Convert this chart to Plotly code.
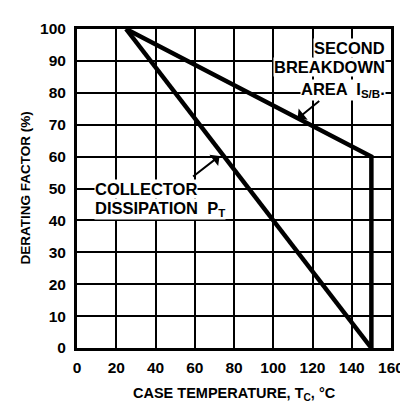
import plotly.graph_objects as go

# Data
pt_temp = [25, 150]
pt_factor = [100, 0]
sb_temp = [25, 150, 150]
sb_factor = [100, 60, 0]
x_ticks = [0, 20, 40, 60, 80, 100, 120, 140, 160]
y_ticks = [0, 10, 20, 30, 40, 50, 60, 70, 80, 90, 100]

FONT = "Liberation Sans"
fig = go.Figure()
fig.add_trace(go.Scatter(x=pt_temp, y=pt_factor, mode="lines",
                         line=dict(color="black", width=4.5), showlegend=False))
fig.add_trace(go.Scatter(x=sb_temp, y=sb_factor, mode="lines",
                         line=dict(color="black", width=4.5), showlegend=False))

axis_common = dict(showgrid=True, gridcolor="black", gridwidth=2, zeroline=False,
                   showline=True, linecolor="black", linewidth=3, mirror=True,
                   ticks="", tickfont=dict(family=FONT, size=15.5, color="black", weight="bold"))
fig.update_xaxes(range=[0, 160], tickvals=x_ticks, ticklabelstandoff=3, **axis_common)
fig.update_yaxes(range=[0, 100], tickvals=y_ticks, ticklabelstandoff=5, **axis_common)

tf = dict(family=FONT, size=16.5, color="black", weight="bold")
ann = []
for txt, yy in [("SECOND", 94.1), ("BREAKDOWN", 88.0), ("AREA  I<sub>S/B</sub>.", 80.9)]:
    ann.append(dict(x=157.5, y=yy, xref="x", yref="y", text=txt, showarrow=False,
                    xanchor="right", yanchor="middle", font=tf, bgcolor="white", borderpad=0))
for txt, yy in [("COLLECTOR", 49.9), ("DISSIPATION  P<sub>T</sub>", 43.6)]:
    ann.append(dict(x=8.8, y=yy, xref="x", yref="y", text=txt, showarrow=False,
                    xanchor="left", yanchor="middle", font=tf, bgcolor="white", borderpad=0))
ann.append(dict(x=112.4, y=71.9, ax=124.2, ay=77.8, xref="x", yref="y", axref="x", ayref="y",
                text="", showarrow=True, arrowhead=1, arrowwidth=2, arrowsize=1.2, arrowcolor="black"))
ann.append(dict(x=72.6, y=60.2, ax=58.4, ay=53.4, xref="x", yref="y", axref="x", ayref="y",
                text="", showarrow=True, arrowhead=1, arrowwidth=2, arrowsize=1.2, arrowcolor="black"))
ann.append(dict(x=0.5, y=0, xref="paper", yref="paper", yshift=-46,
                text="CASE TEMPERATURE, T<sub>C</sub>, °C",
                showarrow=False, xanchor="center", yanchor="middle",
                font=dict(family=FONT, size=14.5, color="black", weight="bold")))
ann.append(dict(x=0, y=0.5, xref="paper", yref="paper", xshift=-52, text="DERATING FACTOR (%)",
                textangle=-90, showarrow=False, xanchor="center", yanchor="middle",
                font=dict(family=FONT, size=13.5, color="black", weight="bold")))

fig.update_layout(width=408, height=403, margin=dict(l=69, r=13, t=16, b=63),
                  plot_bgcolor="white", paper_bgcolor="white", annotations=ann)
fig.write_html("out.html")
